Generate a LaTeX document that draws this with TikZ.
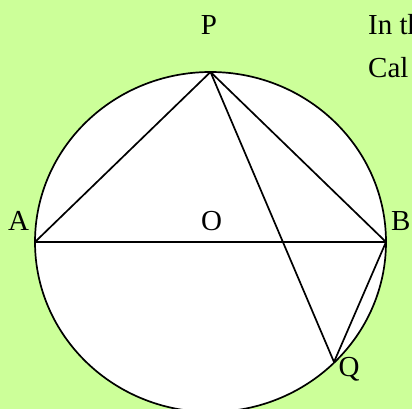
\documentclass[tikz,border=0pt]{standalone}
\usepackage{fontspec}
\setmainfont{Liberation Serif}
\definecolor{bggreen}{RGB}{204,255,153}
\begin{document}
\begin{tikzpicture}[x=1pt,y=-1pt,
  lbl/.style={font=\fontsize{29}{33}\selectfont, inner sep=0pt, anchor=base},
  txt/.style={font=\fontsize{29}{33}\selectfont, inner sep=0pt, anchor=base west},
  seg/.style={line width=1.7pt, line cap=round, line join=round}]
\useasboundingbox (0,0) rectangle (412,409);
\clip (0,0) rectangle (412,409);
\fill[bggreen] (0,0) rectangle (412,409);
\filldraw[fill=white, draw=black, line width=1.7pt] (210.5,242) ellipse [x radius=175.5, y radius=170];
\coordinate (P) at (210.5,72);
\coordinate (A) at (35,242);
\coordinate (B) at (386,242);
\coordinate (Q) at (334,362);
\draw[seg] (A) -- (P) -- (B) -- (A);
\draw[seg] (P) -- (Q) -- (B);
\node[lbl] (lP) at (209,35) {P};
\node[lbl] (lA) at (18.5,230) {A};
\node[lbl] (lO) at (211.5,230) {O};
\node[lbl, anchor=base west] (lB) at (391,230) {B};
\node[lbl] (lQ) at (349,376) {Q};
\node[txt] (t1) at (368,35) {In th};
\node[txt] (t2) at (368,78) {Cal};
\end{tikzpicture}
\end{document}
